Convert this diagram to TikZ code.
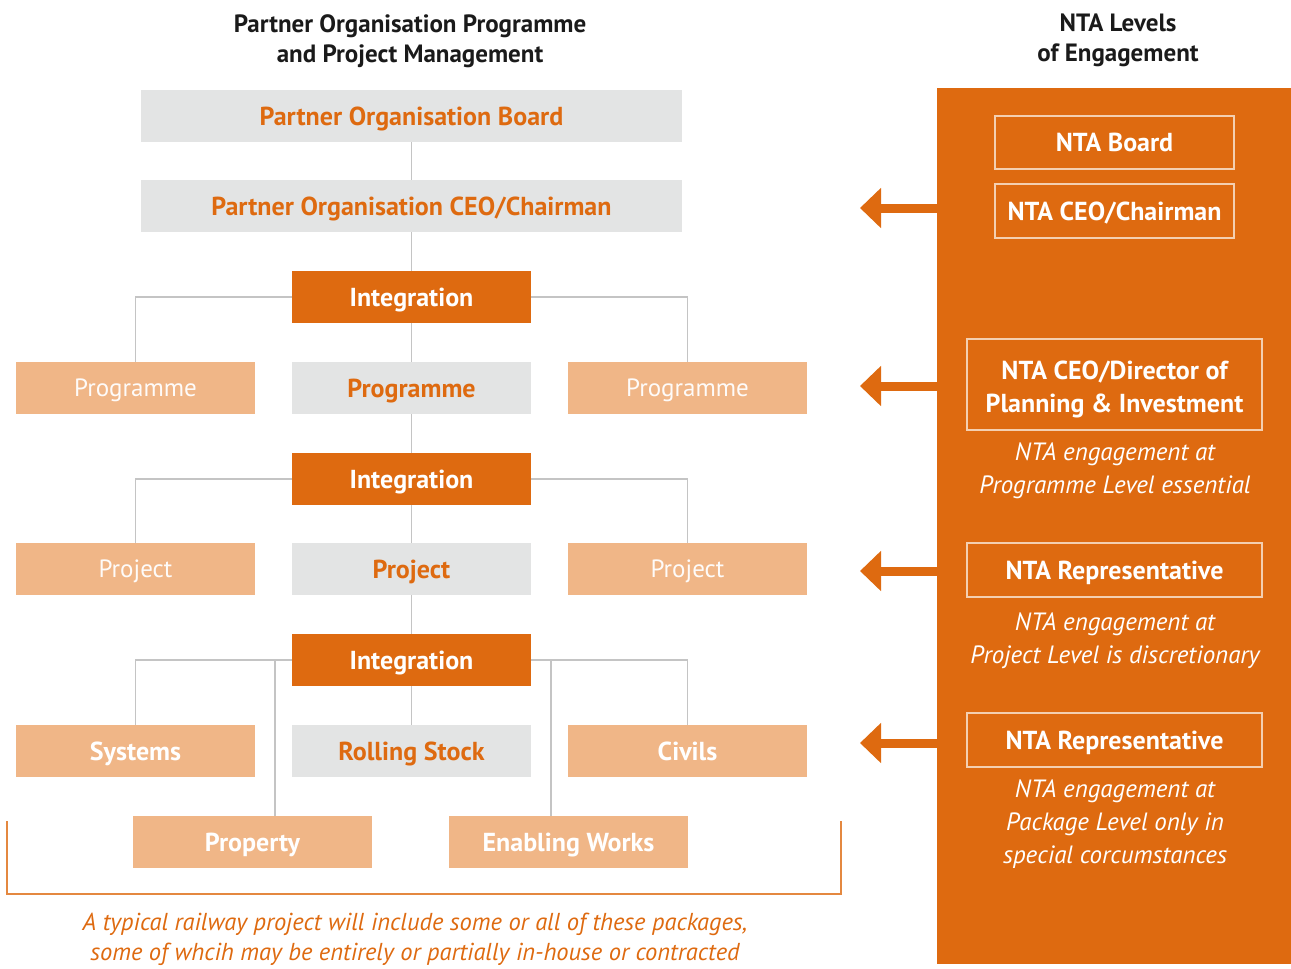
\documentclass[tikz,border=0pt]{standalone}
\usepackage{fontspec}
\setmainfont{PT Sans}
\usetikzlibrary{arrows.meta}
\definecolor{nor}{HTML}{DE6A10}
\definecolor{lor}{HTML}{F0B687}
\definecolor{gry}{HTML}{E3E4E4}
\definecolor{lin}{HTML}{C4C4C4}
\definecolor{pale}{HTML}{F4CFB0}
\definecolor{ttl}{HTML}{1A1A1A}
\tikzset{
  box/.style={rectangle, inner sep=0pt, minimum height=52pt, minimum width=239pt,
    text height=18.2pt, text depth=0pt, font=\fontsize{26}{30}\selectfont\bfseries},
  gbox/.style={box, fill=gry, text=nor},
  obox/.style={box, fill=nor, text=white},
  lbox/.style={box, fill=lor, text=white!95!lor, text height=17.5pt, font=\fontsize{25}{30}\selectfont},
  pkbox/.style={box, fill=lor, text=white},
  wbox/.style={box, draw=pale, line width=1.2pt, text=white},
  conn/.style={draw=lin, line width=1.3pt},
  bigarrow/.style={draw=nor, line width=9pt, -{Triangle[length=21pt,width=39pt]}},
  note/.style={text=white, inner sep=0pt, anchor=north, font=\fontsize{25}{33}\selectfont\itshape, align=center},
  ttlstyle/.style={text=ttl, inner sep=0pt, anchor=north, font=\fontsize{25}{30}\selectfont\bfseries, align=center}
}
\begin{document}
\begin{tikzpicture}[x=1pt,y=-1pt]
\useasboundingbox (0,0) rectangle (1291,969);
% titles
\node[ttlstyle] (t1) at (410,14) {Partner Organisation Programme\\and Project Management};
\node[ttlstyle] (t2) at (1118,14) {NTA Levels\\of Engagement};
% left tree
\node[gbox, minimum width=541pt] (board) at (411.5,116) {Partner Organisation Board};
\node[gbox, minimum width=541pt] (ceo) at (411.5,206) {Partner Organisation CEO/Chairman};
\node[obox] (int1) at (411.5,297) {Integration};
\node[lbox] (progL) at (135.5,388) {Programme};
\node[gbox] (progC) at (411.5,388) {Programme};
\node[lbox] (progR) at (687.5,388) {Programme};
\node[obox] (int2) at (411.5,479) {Integration};
\node[lbox] (projL) at (135.5,569) {Project};
\node[gbox] (projC) at (411.5,569) {Project};
\node[lbox] (projR) at (687.5,569) {Project};
\node[obox] (int3) at (411.5,660) {Integration};
\node[pkbox] (sys) at (135.5,751) {Systems};
\node[gbox] (roll) at (411.5,751) {Rolling Stock};
\node[pkbox] (civ) at (687.5,751) {Civils};
\node[pkbox] (prop) at (252.5,842) {Property};
\node[pkbox] (enab) at (568.5,842) {Enabling Works};
% connectors
\path[conn] (board.south) -- (ceo.north);
\path[conn] (ceo.south) -- (int1.north);
\path[conn] (int1.south) -- (progC.north);
\path[conn] (int1.west) -| (progL.north);
\path[conn] (int1.east) -| (progR.north);
\path[conn] (progC.south) -- (int2.north);
\path[conn] (int2.south) -- (projC.north);
\path[conn] (int2.west) -| (projL.north);
\path[conn] (int2.east) -| (projR.north);
\path[conn] (projC.south) -- (int3.north);
\path[conn] (int3.south) -- (roll.north);
\path[conn] (int3.west) -| (sys.north);
\path[conn] (int3.east) -| (civ.north);
\coordinate (pj) at (275,660);
\coordinate (ej) at (551,660);
\path[conn] (pj) -- (pj |- prop.north);
\path[conn] (ej) -- (ej |- enab.north);
% bracket
\coordinate (bl) at (7,821);
\coordinate (br) at (841,821);
\draw[nor!80, line width=1.4pt] (bl) -- (7,894) -- (841,894) -- (br);
\node[text=nor, inner sep=0pt, anchor=north, font=\fontsize{24.5}{30}\selectfont\itshape, align=center] (cap) at (415,913)
  {A typical railway project will include some or all of these packages,\\some of whcih may be entirely or partially in-house or contracted};
% right panel
\node[fill=nor, inner sep=0pt, minimum width=354pt, minimum height=876pt, anchor=north west] (panel) at (937,88) {};
\node[wbox, minimum height=53pt] (ntab) at (1114.5,142.5) {NTA Board};
\node[wbox, minimum height=54pt] (ntac) at (1114.5,211) {NTA CEO/Chairman};
\node[wbox, minimum width=295pt, minimum height=91pt] (ntad) at (1114.5,384.5) {};
\node[note, font=\fontsize{26}{33}\selectfont\bfseries] (ntadtxt) at (1114.5,361) {NTA CEO/Director of\\Planning \& Investment};
\node[note] (n1) at (1115,443) {NTA engagement at\\Programme Level essential};
\node[wbox, minimum width=295pt, minimum height=54pt] (ntar1) at (1114.5,570) {NTA Representative};
\node[note] (n2) at (1115,613) {NTA engagement at\\Project Level is discretionary};
\node[wbox, minimum width=295pt, minimum height=54pt] (ntar2) at (1114.5,740) {NTA Representative};
\node[note] (n3) at (1115,780) {NTA engagement at\\Package Level only in\\special corcumstances};
% arrows
\coordinate (a1s) at (937,208); \coordinate (a1e) at (860,208);
\coordinate (a2s) at (937,386); \coordinate (a2e) at (860,386);
\coordinate (a3s) at (937,571); \coordinate (a3e) at (860,571);
\coordinate (a4s) at (937,743); \coordinate (a4e) at (860,743);
\draw[bigarrow] (a1s) -- (a1e);
\draw[bigarrow] (a2s) -- (a2e);
\draw[bigarrow] (a3s) -- (a3e);
\draw[bigarrow] (a4s) -- (a4e);
\end{tikzpicture}
\end{document}
